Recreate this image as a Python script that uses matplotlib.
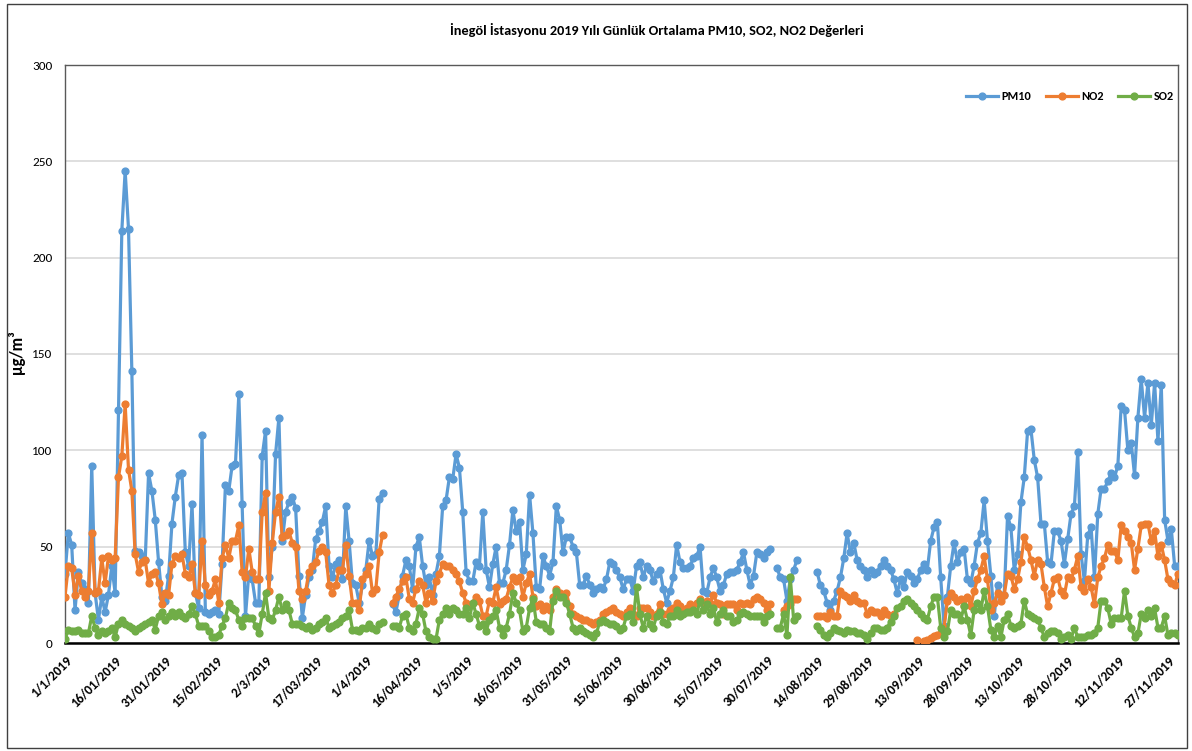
import numpy as np
import matplotlib
matplotlib.use("Agg")
import matplotlib.pyplot as plt
from matplotlib.patches import Rectangle
from matplotlib.lines import Line2D

N = np.nan

# ---- data (daily averages, index 0 = 1 Jan 2019) ----
pm10 = [36, 57, 51, 17, 37, 31, 28, 21, 92, 26, 12, 24, 16, 25, 40, 26, 121, 214, 245, 215,
        141, 48, 47, 45, 43, 88, 79, 64, 42, 24, 22, 35, 62, 76, 87, 88, 47, 40, 72, 26,
        18, 108, 16, 15, 16, 17, 15, 41, 82, 79, 92, 93, 129, 72, 14, 36, 33, 21, 21, 97,
        110, 34, 50, 98, 117, 53, 68, 73, 76, 70, 35, 13, 25, 34, 38, 54, 58, 63, 71, 40,
        34, 41, 43, 33, 71, 53, 31, 30, 21, 30, 38, 53, 45, 46, 75, 78, N, N, 20, 16,
        25, 35, 43, 40, 28, 50, 55, 40, 30, 34, 25, 36, 45, 71, 74, 86, 85, 98, 91, 68,
        37, 32, 32, 42, 40, 68, 38, 29, 41, 50, 31, 31, 38, 51, 69, 58, 63, 38, 46, 77,
        57, 29, 28, 45, 40, 35, 42, 71, 64, 47, 55, 55, 50, 47, 30, 30, 35, 30, 26, 28,
        29, 28, 33, 42, 41, 38, 34, 28, 33, 33, 27, 40, 42, 34, 40, 38, 32, 36, 38, 28,
        21, 27, 34, 51, 42, 39, 39, 40, 44, 45, 50, 27, 26, 34, 39, 34, 27, 30, 36, 37,
        37, 38, 42, 47, 38, 30, 35, 47, 46, 44, 47, 49, N, 39, 34, 33, 22, 33, 38, 43,
        N, N, N, N, N, 37, 30, 27, 21, 17, 22, 27, 34, 44, 57, 47, 52, 43, 40, 38,
        34, 38, 36, 37, 40, 43, 40, 38, 33, 26, 33, 29, 37, 35, 31, 33, 38, 41, 38, 53,
        60, 63, 34, 9, 24, 40, 52, 42, 47, 49, 33, 31, 40, 52, 57, 74, 53, 35, 14, 30,
        25, 25, 66, 60, 38, 46, 73, 86, 110, 111, 95, 86, 62, 62, 42, 41, 58, 58, 53, 41,
        54, 67, 71, 99, 46, 32, 56, 60, 34, 67, 80, 80, 84, 88, 86, 92, 123, 121, 100, 104,
        87, 117, 137, 117, 135, 113, 135, 105, 134, 64, 53, 59, 40, 40]

no2 = [24, 40, 39, 25, 35, 27, 24, 27, 57, 26, 27, 44, 31, 45, 43, 44, 86, 97, 124, 90,
       79, 46, 37, 42, 43, 31, 36, 37, 31, 20, 26, 25, 41, 45, 44, 46, 36, 34, 41, 26,
       25, 53, 30, 25, 27, 33, 21, 44, 51, 44, 53, 53, 61, 37, 34, 49, 37, 33, 33, 68,
       78, 27, 52, 68, 76, 55, 56, 58, 52, 50, 27, 23, 27, 37, 40, 42, 48, 50, 47, 30,
       26, 30, 38, 38, 51, 35, 21, 21, 17, 33, 36, 40, 26, 28, 47, 56, N, N, 21, 24,
       28, 32, 34, 23, 21, 28, 32, 30, 21, 26, 22, 32, 36, 41, 40, 40, 38, 36, 32, 26,
       21, 19, 21, 24, 22, 14, 14, 22, 21, 29, 20, 22, 23, 29, 34, 32, 34, 24, 31, 36,
       24, 19, 20, 17, 19, 17, 24, 28, 26, 25, 26, 19, 15, 14, 13, 12, 12, 11, 10, 11,
       12, 15, 16, 17, 18, 16, 15, 14, 16, 18, 15, 14, 18, 18, 18, 16, 14, 15, 20, 15,
       15, 17, 18, 21, 19, 17, 18, 20, 17, 21, 23, 21, 22, 21, 25, 21, 20, 15, 20, 20,
       20, 17, 21, 20, 21, 20, 23, 24, 23, 21, 17, 20, N, N, N, 17, 19, 20, 23, 23,
       N, N, N, N, N, 14, 14, 14, 13, 16, 14, 14, 27, 25, 24, 22, 25, 22, 21, 21,
       15, 17, 16, 16, 14, 17, 15, 14, 15, N, N, N, N, N, N, 1.5, N, 1, 1.5, 2.5,
       3.5, 4, 5, 8, 22, 26, 24, 22, 23, 19, 24, 19, 27, 33, 38, 45, 33, 17, 21, 26,
       22, 25, 36, 35, 28, 33, 42, 55, 50, 43, 35, 43, 41, 29, 19, 26, 33, 34, 27, 25,
       34, 33, 38, 45, 29, 27, 33, 29, 20, 34, 40, 44, 51, 48, 48, 43, 61, 58, 55, 52,
       38, 49, 61, 62, 62, 53, 58, 45, 51, 43, 33, 31, 30, 36]

so2 = [2, 7, 6, 6, 7, 5, 5, 5, 14, 8, 4, 6, 5, 6, 8, 3, 10, 12, 10, 9,
       8, 6, 8, 9, 10, 11, 12, 7, 14, 16, 12, 14, 16, 14, 16, 14, 13, 15, 19, 15,
       9, 9, 9, 6, 3, 3, 4, 9, 13, 21, 18, 17, 12, 9, 13, 13, 13, 9, 5, 15,
       26, 13, 12, 17, 24, 17, 20, 17, 10, 10, 10, 9, 8, 9, 7, 8, 10, 11, 13, 8,
       9, 10, 11, 13, 14, 17, 7, 7, 6, 8, 8, 10, 8, 7, 10, 11, N, N, 9, 9,
       8, 14, 15, 8, 6, 10, 18, 15, 6, 3, 2, 2, 12, 15, 18, 15, 18, 17, 15, 15,
       18, 13, 21, 15, 9, 10, 6, 12, 14, 17, 8, 4, 8, 15, 26, 21, 17, 6, 8, 18,
       23, 11, 10, 10, 8, 6, 22, 27, 24, 24, 21, 15, 8, 6, 8, 6, 5, 4, 3, 5,
       11, 12, 11, 10, 10, 9, 7, 8, 14, 15, 11, 29, 15, 8, 14, 10, 8, 14, 16, 11,
       10, 14, 14, 17, 14, 15, 16, 16, 17, 15, 22, 17, 20, 15, 18, 11, 15, 17, 14, 14,
       11, 12, 15, 16, 15, 14, 14, 14, 14, 11, 14, 15, N, 8, 8, 15, 4, 34, 12, 14,
       N, N, N, N, N, 9, 7, 4, 3, 5, 8, 7, 6, 5, 7, 6, 6, 5, 5, 4,
       2, 5, 8, 8, 7, 7, 8, 11, 14, 18, 19, 22, 23, 21, 19, 17, 15, 13, 12, 19,
       24, 24, 8, 3, 6, 17, 15, 15, 12, 19, 12, 4, 17, 21, 17, 27, 19, 7, 3, 9,
       3, 12, 15, 9, 8, 9, 10, 22, 15, 14, 13, 12, 8, 3, 5, 6, 6, 5, 2, 3,
       4, 2, 8, 3, 3, 3, 4, 4, 5, 8, 22, 22, 18, 10, 13, 13, 13, 27, 14, 8,
       3, 5, 15, 13, 17, 14, 18, 8, 8, 14, 4, 5, 5, 4]

tick_days = list(range(0, 331, 15))
tick_labels = ["1/1/2019", "16/01/2019", "31/01/2019", "15/02/2019", "2/3/2019",
               "17/03/2019", "1/4/2019", "16/04/2019", "1/5/2019", "16/05/2019",
               "31/05/2019", "15/06/2019", "30/06/2019", "15/07/2019", "30/07/2019",
               "14/08/2019", "29/08/2019", "13/09/2019", "28/09/2019", "13/10/2019",
               "28/10/2019", "12/11/2019", "27/11/2019"]

series_names = ["PM10", "NO2", "SO2"]
colors = ["#5B9BD5", "#ED7D31", "#70AD47"]

plt.rcParams["font.family"] = ["Carlito", "DejaVu Sans"]

W, H = 1192, 751
fig = plt.figure(figsize=(W / 100, H / 100), dpi=100)
ax = fig.add_axes([65 / W, (H - 643) / H, (1178 - 65) / W, (643 - 65) / H])

days = np.arange(len(pm10))
data = [np.array(pm10, float), np.array(no2, float), np.array(so2, float)]
for name, vals, c in zip(series_names, data, colors):
    ax.plot(days, vals, color=c, lw=2.3, marker="o", ms=4.9, mec=c, mfc=c,
            label=name, zorder=3, solid_joinstyle="round")

ax.set_xlim(0, len(pm10) - 1)
ax.set_ylim(0, 300)
ax.set_yticks(np.arange(0, 301, 50))
ax.yaxis.grid(True, color="#D9D9D9", lw=1.2, zorder=0)
ax.set_axisbelow(True)
ax.tick_params(axis="y", length=0, pad=9, labelsize=9.5)
ax.set_xticks(tick_days)
ax.set_xticklabels(tick_labels, rotation=45, ha="right", rotation_mode="anchor",
                   fontsize=9.5, fontweight="bold")
ax.tick_params(axis="x", length=0, pad=8)
for s in ["left", "top", "right"]:
    ax.spines[s].set_color("#595959")
    ax.spines[s].set_linewidth(1.0)
ax.spines["bottom"].set_color("black")
ax.spines["bottom"].set_linewidth(1.8)

fig.text(657 / W, 1 - 30 / H,
         "İnegöl İstasyonu 2019 Yılı Günlük Ortalama PM10, SO2, NO2 Değerleri",
         ha="center", va="center", fontsize=10.3, fontweight="bold")
fig.text(17 / W, 1 - 352 / H, "μg/m³", rotation=90, ha="center", va="center",
         fontsize=12, fontweight="bold")

handles = [Line2D([0], [0], color=c, lw=2.3, marker="o", ms=4.9) for c in colors]
fig.legend(handles, series_names, loc="center", bbox_to_anchor=(1070 / W, 1 - 97 / H),
           ncol=3, frameon=False, handlelength=2.6, columnspacing=1.2,
           handletextpad=0.3, prop={"weight": "bold", "size": 8.8})

fig.add_artist(Rectangle((7 / W, 3 / H), (1187 - 7) / W, (747 - 3) / H,
                         transform=fig.transFigure, fill=False, ec="#404040", lw=1.0))

fig.savefig("out.png", dpi=100)
